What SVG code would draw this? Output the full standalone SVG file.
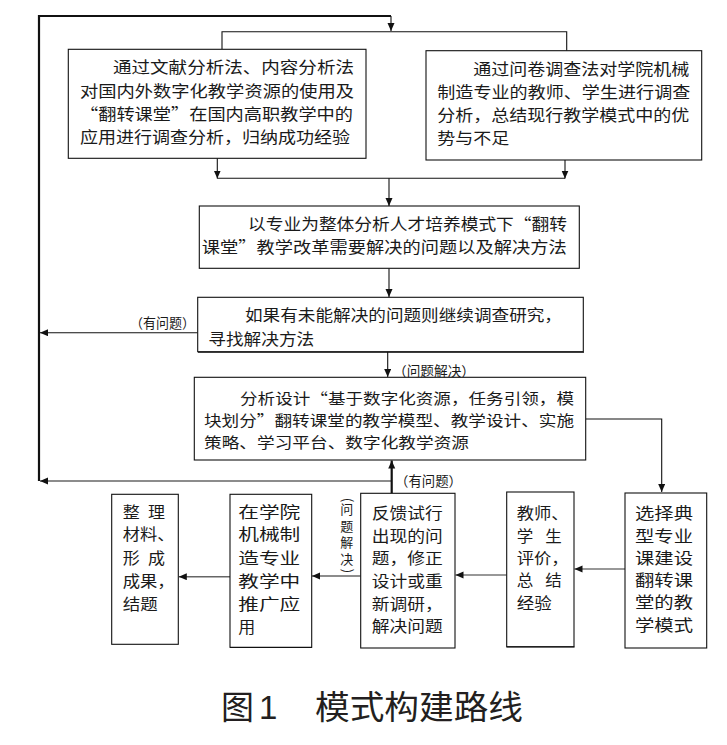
<svg xmlns="http://www.w3.org/2000/svg" width="727" height="745" viewBox="0 0 727 745">
<defs>
<style>
.box{fill:#fff;stroke:#111;stroke-width:1.1}
.t{font-family:"Noto Sans CJK SC","Noto Sans CJK JP",sans-serif;font-size:15.4px;fill:#1a1a1a}
.big{font-size:16px}
.lbl{font-family:"Noto Sans CJK SC","Noto Sans CJK JP",sans-serif;font-size:13.5px;fill:#1a1a1a}
.ln{fill:none;stroke:#111;stroke-width:1.1}
.thick{fill:none;stroke:#111;stroke-width:2.2}
.gray{fill:none;stroke:#666;stroke-width:1.6}
.dg{fill:none;stroke:#333;stroke-width:1.2}
.title{font-family:"Noto Sans CJK SC","Noto Sans CJK JP",sans-serif;font-size:33px;fill:#231f20}
</style>
<marker id="ah" markerUnits="userSpaceOnUse" markerWidth="9" markerHeight="8" refX="8" refY="3.5" orient="auto">
<path d="M0,0 L8,3.5 L0,7 z" fill="#111"/>
</marker>
</defs>
<rect width="727" height="745" fill="#fff"/>

<g id="connectors">
<polyline class="thick" points="39,481 39,16 391,16"/>
<line class="ln" x1="391" y1="16" x2="391" y2="31" marker-end="url(#ah)"/>
<polyline class="ln" points="222,49.3 222,31.7 566.7,31.7 566.7,50.7"/>
<line class="ln" x1="217.3" y1="158.3" x2="217.3" y2="178.5" marker-end="url(#ah)"/>
<line class="ln" x1="565" y1="160" x2="565" y2="178.5" marker-end="url(#ah)"/>
<line class="ln" x1="217.3" y1="178.3" x2="565" y2="178.3"/>
<line class="ln" x1="389" y1="178.3" x2="389" y2="206" marker-end="url(#ah)"/>
<line class="ln" x1="389" y1="268.3" x2="389" y2="297" marker-end="url(#ah)"/>
<line class="ln" x1="387.7" y1="351.7" x2="387.7" y2="377" marker-end="url(#ah)"/>
<line class="ln" x1="197.7" y1="332.7" x2="40" y2="332.7" marker-end="url(#ah)"/>
<polyline class="ln" points="585.7,419 661.7,419 661.7,492" marker-end="url(#ah)"/>
<line class="gray" x1="391.7" y1="481" x2="40" y2="481" marker-end="url(#ah)"/>
<line class="thick" x1="391.7" y1="493.3" x2="391.7" y2="460.5" marker-end="url(#ah)"/>
<line class="dg" x1="625" y1="569" x2="574.5" y2="569" marker-end="url(#ah)"/>
<line class="dg" x1="506.7" y1="575" x2="455.5" y2="575" marker-end="url(#ah)"/>
<line class="gray" x1="360.7" y1="576" x2="312" y2="576" marker-end="url(#ah)"/>
<line class="gray" x1="230" y1="576.7" x2="178.8" y2="576.7" marker-end="url(#ah)"/>
<text class="lbl" x="130" y="328" textLength="65" lengthAdjust="spacingAndGlyphs">（有问题）</text>
<text class="lbl" x="393" y="375.5" textLength="82" lengthAdjust="spacingAndGlyphs">（问题解决）</text>
<text class="lbl" x="395" y="485.5" textLength="67" lengthAdjust="spacingAndGlyphs">（有问题）</text>
<g id="vlabel" class="lbl">
<text x="346.7" y="504" text-anchor="middle" transform="rotate(90 346.7 500)">(</text>
<text x="346.7" y="503" style="writing-mode:vertical-rl;text-orientation:upright;font-size:13px;letter-spacing:3.5px">问题解决</text>
<text x="346.7" y="575" text-anchor="middle" transform="rotate(90 346.7 571)">)</text>
</g>
</g>

<g id="n1">
<rect class="box" x="68.3" y="49.3" width="297.7" height="109"/>
<text class="t big"><tspan x="113" y="73" textLength="241" lengthAdjust="spacingAndGlyphs">通过文献分析法、内容分析法</tspan><tspan x="80" y="97" textLength="274" lengthAdjust="spacingAndGlyphs">对国内外数字化教学资源的使用及</tspan><tspan x="80" y="120" textLength="273" lengthAdjust="spacingAndGlyphs">“翻转课堂”在国内高职教学中的</tspan><tspan x="80" y="143.3" textLength="270" lengthAdjust="spacingAndGlyphs">应用进行调查分析，归纳成功经验</tspan></text>
</g>

<g id="n2">
<rect class="box" x="426" y="50.7" width="275.7" height="109.3"/>
<text class="t big"><tspan x="473.3" y="74.5" textLength="216" lengthAdjust="spacingAndGlyphs">通过问卷调查法对学院机械</tspan><tspan x="437.3" y="97.5" textLength="253" lengthAdjust="spacingAndGlyphs">制造专业的教师、学生进行调查</tspan><tspan x="437.3" y="120.8" textLength="252" lengthAdjust="spacingAndGlyphs">分析，总结现行教学模式中的优</tspan><tspan x="437.3" y="144" textLength="72" lengthAdjust="spacingAndGlyphs">势与不足</tspan></text>
</g>

<g id="n3">
<rect class="box" x="199.3" y="206" width="380" height="62.3"/>
<text class="t big"><tspan x="248" y="229.5" textLength="319" lengthAdjust="spacingAndGlyphs">以专业为整体分析人才培养模式下“翻转</tspan><tspan x="201.7" y="253" textLength="365" lengthAdjust="spacingAndGlyphs">课堂”教学改革需要解决的问题以及解决方法</tspan></text>
</g>

<g id="n4">
<rect class="box" x="197.7" y="297.3" width="385.6" height="54.4"/>
<line class="ln" x1="198" y1="352.3" x2="584" y2="352.3" stroke-width="1.6"/>
<text class="t" style="font-size:15.8px"><tspan x="245" y="321.3" textLength="317" lengthAdjust="spacingAndGlyphs">如果有未能解决的问题则继续调查研究，</tspan><tspan x="208.3" y="344.5" textLength="106" lengthAdjust="spacingAndGlyphs">寻找解决方法</tspan></text>
</g>

<g id="n5">
<rect class="box" x="194.3" y="377.3" width="391.4" height="82.7"/>
<text class="t" style="font-size:15.2px"><tspan x="240" y="404.3" textLength="334" lengthAdjust="spacingAndGlyphs">分析设计“基于数字化资源，任务引领，模</tspan><tspan x="204" y="426.3" textLength="370" lengthAdjust="spacingAndGlyphs">块划分”翻转课堂的教学模型、教学设计、实施</tspan><tspan x="204" y="448.3" textLength="265" lengthAdjust="spacingAndGlyphs">策略、学习平台、数字化教学资源</tspan></text>
</g>

<g id="n6">
<rect class="box" x="625" y="493" width="81.7" height="155"/>
<text class="t"><tspan x="635" y="519.3" textLength="58" lengthAdjust="spacingAndGlyphs">选择典</tspan><tspan x="635" y="541.5" textLength="58" lengthAdjust="spacingAndGlyphs">型专业</tspan><tspan x="635" y="563.7" textLength="58" lengthAdjust="spacingAndGlyphs">课建设</tspan><tspan x="635" y="586" textLength="58" lengthAdjust="spacingAndGlyphs">翻转课</tspan><tspan x="635" y="608.3" textLength="58" lengthAdjust="spacingAndGlyphs">堂的教</tspan><tspan x="635" y="630.5" textLength="58" lengthAdjust="spacingAndGlyphs">学模式</tspan></text>
</g>

<g id="n7">
<rect class="box" x="506.7" y="492" width="67.3" height="154.7"/>
<line class="ln" x1="506.5" y1="647" x2="574.5" y2="647" stroke-width="1.8"/>
<text class="t"><tspan x="516.7" y="519.3" textLength="52" lengthAdjust="spacingAndGlyphs">教师、</tspan><tspan x="516.7" y="541.7" textLength="16.5" lengthAdjust="spacingAndGlyphs">学</tspan><tspan x="545.2" y="541.7" textLength="16.5" lengthAdjust="spacingAndGlyphs">生</tspan><tspan x="516.7" y="564" textLength="52" lengthAdjust="spacingAndGlyphs">评价，</tspan><tspan x="516.7" y="586.3" textLength="16.5" lengthAdjust="spacingAndGlyphs">总</tspan><tspan x="545.2" y="586.3" textLength="16.5" lengthAdjust="spacingAndGlyphs">结</tspan><tspan x="516.7" y="608.6" textLength="35" lengthAdjust="spacingAndGlyphs">经验</tspan></text>
</g>

<g id="n8">
<rect class="box" x="360.7" y="493.3" width="94.3" height="154.7"/>
<text class="t"><tspan x="371.7" y="519.3" textLength="71" lengthAdjust="spacingAndGlyphs">反馈试行</tspan><tspan x="371.7" y="541.8" textLength="71" lengthAdjust="spacingAndGlyphs">出现的问</tspan><tspan x="371.7" y="564.3" textLength="71" lengthAdjust="spacingAndGlyphs">题，修正</tspan><tspan x="371.7" y="587" textLength="71" lengthAdjust="spacingAndGlyphs">设计或重</tspan><tspan x="371.7" y="609.6" textLength="71" lengthAdjust="spacingAndGlyphs">新调研，</tspan><tspan x="371.7" y="632.2" textLength="71" lengthAdjust="spacingAndGlyphs">解决问题</tspan></text>
</g>

<g id="n9">
<rect class="box" x="230" y="494.3" width="81.7" height="153"/>
<line class="ln" x1="230" y1="647.5" x2="312" y2="647.5" stroke-width="1.8"/>
<text class="t"><tspan x="238.3" y="517.8" textLength="62" lengthAdjust="spacingAndGlyphs">在学院</tspan><tspan x="238.3" y="540.4" textLength="62" lengthAdjust="spacingAndGlyphs">机械制</tspan><tspan x="238.3" y="564" textLength="62" lengthAdjust="spacingAndGlyphs">造专业</tspan><tspan x="238.3" y="586.8" textLength="62" lengthAdjust="spacingAndGlyphs">教学中</tspan><tspan x="238.3" y="609.5" textLength="62" lengthAdjust="spacingAndGlyphs">推广应</tspan><tspan x="238.3" y="632.6" textLength="17" lengthAdjust="spacingAndGlyphs">用</tspan></text>
</g>

<g id="n10">
<rect class="box" x="111.7" y="494.3" width="66.6" height="150"/>
<text class="t"><tspan x="122.7" y="517.8" textLength="17" lengthAdjust="spacingAndGlyphs">整</tspan><tspan x="148" y="517.8" textLength="17" lengthAdjust="spacingAndGlyphs">理</tspan><tspan x="122.7" y="540.4" textLength="52" lengthAdjust="spacingAndGlyphs">材料、</tspan><tspan x="122.7" y="564" textLength="17" lengthAdjust="spacingAndGlyphs">形</tspan><tspan x="148" y="564" textLength="17" lengthAdjust="spacingAndGlyphs">成</tspan><tspan x="122.7" y="587.2" textLength="52" lengthAdjust="spacingAndGlyphs">成果，</tspan><tspan x="122.7" y="609.5" textLength="35" lengthAdjust="spacingAndGlyphs">结题</tspan></text>
</g>

<g id="caption">
<text class="title"><tspan x="221" y="719">图</tspan><tspan x="259" y="719" font-family="Liberation Sans, sans-serif">1</tspan><tspan x="315" y="719" textLength="208" lengthAdjust="spacingAndGlyphs">模式构建路线</tspan></text>
</g>
</svg>
